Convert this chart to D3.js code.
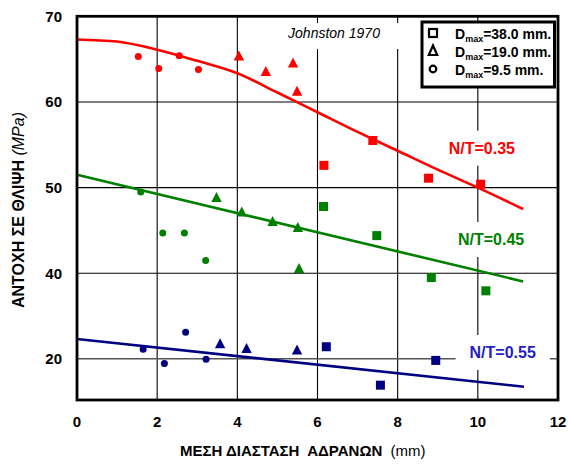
<!DOCTYPE html>
<html>
<head>
<meta charset="utf-8">
<script src="https://cdn.jsdelivr.net/npm/d3@7/dist/d3.min.js"></script>
<style>
  html, body { margin: 0; padding: 0; background: #fff; }
  svg { display: block; font-family: Arial, "Liberation Sans", sans-serif; }
</style>
</head>
<body>
<svg id="chart" width="568" height="464"></svg>
<script>
// Axis ticks
const xTicks = [0, 2, 4, 6, 8, 10, 12];
const yTicks = [20, 40, 50, 60, 70];

// Measurements: [mean aggregate size (mm), strength (MPa)]
const redSquares   = [[6.16, 52.6], [7.38, 55.5], [8.77, 51.1], [10.07, 50.4]];
const redTriangles = [[4.04, 65.3], [4.71, 63.5], [5.39, 64.5], [5.49, 61.2]];
const redCircles   = [[1.53, 65.3], [2.04, 63.9], [2.55, 65.4], [3.03, 63.8]];

const greenSquares   = [[6.15, 47.8], [7.48, 44.4], [8.84, 39.0], [10.2, 35.9]];
const greenTriangles = [[3.48, 48.8], [4.11, 47.1], [4.88, 46.0], [5.51, 45.3], [5.54, 40.5]];
const greenCircles   = [[1.59, 49.5], [2.14, 44.7], [2.68, 44.7], [3.21, 41.5]];

const blueSquares   = [[6.22, 22.8], [7.57, 13.8], [8.95, 19.6]];
const blueTriangles = [[3.57, 23.4], [4.23, 22.3], [5.49, 21.9]];
const blueCircles   = [[1.65, 22.2], [2.18, 18.9], [2.71, 26.2], [3.22, 19.9]];

// Trend curves for each water/cement ratio
const redFit   = [[0, 67.3], [1, 67.05], [2, 66.1], [3, 64.8], [4, 63.35], [5, 61.1], [6, 58.8],
                  [7, 56.5], [8, 54.3], [9, 52.1], [10, 50.0], [11.13, 47.5]];
const greenFit = [[0, 51.5], [11.13, 38.1]];
const blueFit  = [[0, 24.6], [11.15, 13.45]];

const fitLabels = ["N/T=0.35", "N/T=0.45", "N/T=0.55"];
const legendLabels = [["38.0 mm."], ["19.0 mm."], ["9.5 mm."]];

// ---- layout ----
const svg = d3.select("#chart");
const L = 77, R = 558, T = 16.3, B = 400;

const x = d3.scaleLinear().domain([0, 12]).range([L, R]);
// broken value axis: 20–40 band compressed into one grid step
const y = d3.scaleLinear().domain([20, 40, 70]).range([358.7, 273.3, T]);

const RED = "#ff0000", GREEN = "#008000", NAVY = "#000080", LBLUE = "#1f1fc4";

svg.append("rect").attr("width", 568).attr("height", 464).attr("fill", "#fff");

// grid
const grid = svg.append("g");
grid.selectAll("line.v").data(xTicks.filter(d => d > 0 && d < 12)).join("line")
  .attr("x1", d => x(d)).attr("x2", d => x(d)).attr("y1", T).attr("y2", B)
  .attr("stroke", "#000").attr("stroke-width", 1.1);
grid.selectAll("line.h").data(yTicks.filter(d => d < 70)).join("line")
  .attr("x1", L).attr("x2", R).attr("y1", d => y(d)).attr("y2", d => y(d))
  .attr("stroke", d => d === 20 ? "#555" : "#000")
  .attr("stroke-width", d => d === 20 ? 1.6 : 1.1);

// white boxes behind annotations
const covers = svg.append("g");
covers.append("rect").attr("x", 280).attr("y", 23).attr("width", 132).attr("height", 26).attr("fill", "#fff");

// fit curves
const line = d3.line().x(d => x(d[0])).y(d => y(d[1]));
const fits = [[redFit, RED, d3.curveMonotoneX], [greenFit, GREEN, d3.curveLinear], [blueFit, NAVY, d3.curveLinear]];

// labels on fits
const labelPos = [[10.1, 54.6], [10.33, 43.95], [10.62, 21.45]];
const labelCol = [RED, GREEN, LBLUE];
const labelG = svg.append("g");
fitLabels.forEach((t, i) => {
  const cx = x(labelPos[i][0]), cy = y(labelPos[i][1]);
  const txt = labelG.append("text").text(t)
    .attr("x", cx).attr("y", cy + 5.5)
    .attr("text-anchor", "middle")
    .attr("font-size", 16).attr("font-weight", "bold")
    .attr("fill", labelCol[i]);
  const w = txt.node().getComputedTextLength();
  covers.append("rect").attr("x", cx - w / 2 - 14).attr("y", cy - 17.5)
    .attr("width", w + 28).attr("height", 35).attr("fill", "#fff");
});

const lineG = svg.append("g");
fits.forEach(([data, col, curve]) => {
  lineG.append("path").datum(data)
    .attr("d", line.curve(curve))
    .attr("fill", "none").attr("stroke", col).attr("stroke-width", 2.6);
});

// markers
const triPath = "M0,-6L5.2,4L-5.2,4Z";
const markG = svg.append("g");
function squares(data, col) {
  markG.selectAll(null).data(data).join("rect")
    .attr("x", d => x(d[0]) - 4.5).attr("y", d => y(d[1]) - 4.5)
    .attr("width", 9).attr("height", 9).attr("fill", col);
}
function triangles(data, col) {
  markG.selectAll(null).data(data).join("path")
    .attr("d", triPath)
    .attr("transform", d => `translate(${x(d[0])},${y(d[1])})`)
    .attr("fill", col);
}
function circles(data, col) {
  markG.selectAll(null).data(data).join("circle")
    .attr("cx", d => x(d[0])).attr("cy", d => y(d[1])).attr("r", 3.5)
    .attr("fill", col);
}
squares(redSquares, RED); triangles(redTriangles, RED); circles(redCircles, RED);
squares(greenSquares, GREEN); triangles(greenTriangles, GREEN); circles(greenCircles, GREEN);
squares(blueSquares, NAVY); triangles(blueTriangles, NAVY); circles(blueCircles, NAVY);

// re-draw fit labels above everything
labelG.raise();

// frame
svg.append("rect").attr("x", L).attr("y", T).attr("width", R - L).attr("height", B - T)
  .attr("fill", "none").attr("stroke", "#000").attr("stroke-width", 2.8);

// tick labels
svg.append("g").selectAll("text").data(xTicks).join("text")
  .attr("x", d => x(d)).attr("y", 427)
  .attr("text-anchor", "middle").attr("font-size", 15).attr("font-weight", "bold")
  .text(d => d);
svg.append("g").selectAll("text").data(yTicks).join("text")
  .attr("x", 62).attr("y", d => y(d) + 5.4)
  .attr("text-anchor", "end").attr("font-size", 15).attr("font-weight", "bold")
  .text(d => d);

// axis titles
const xt = svg.append("text").attr("x", 180).attr("y", 456).attr("font-size", 15)
  .attr("xml:space", "preserve").style("white-space", "pre");
xt.append("tspan").attr("font-weight", "bold").text("ΜΕΣΗ ΔΙΑΣΤΑΣΗ  ΑΔΡΑΝΩΝ");
xt.append("tspan").text("  (mm)");

const yt = svg.append("text").attr("transform", "translate(23.5,210) rotate(-90)")
  .attr("text-anchor", "middle").attr("font-size", 16).style("white-space", "pre");
yt.append("tspan").attr("font-weight", "bold").text("ΑΝΤΟΧΗ ΣΕ ΘΛΙΨΗ ");
yt.append("tspan").attr("font-style", "italic").text("(MPa)");

// source note
svg.append("text").attr("x", 334).attr("y", 38.3).attr("text-anchor", "middle")
  .attr("font-size", 14).attr("font-style", "italic").text("Johnston 1970");

// legend
const lg = svg.append("g");
lg.append("rect").attr("x", 422).attr("y", 22).attr("width", 132.5).attr("height", 65)
  .attr("fill", "#fff").attr("stroke", "#000").attr("stroke-width", 3);
const rowY = [33, 51, 69];
lg.append("rect").attr("x", 429).attr("y", rowY[0] - 4).attr("width", 8).attr("height", 8)
  .attr("fill", "#fff").attr("stroke", "#000").attr("stroke-width", 2.2);
lg.append("path").attr("d", "M0,-5.5L4.2,4L-4.2,4Z").attr("transform", `translate(433,${rowY[1]})`)
  .attr("fill", "#fff").attr("stroke", "#000").attr("stroke-width", 2.2).attr("stroke-linejoin", "miter");
lg.append("circle").attr("cx", 433).attr("cy", rowY[2]).attr("r", 3.3)
  .attr("fill", "#fff").attr("stroke", "#000").attr("stroke-width", 2.2);
legendLabels.forEach((lab, i) => {
  const t = lg.append("text").attr("x", 455).attr("y", rowY[i] + 5.5)
    .attr("font-size", 14).attr("font-weight", "bold").style("white-space", "pre");
  t.append("tspan").text("D");
  t.append("tspan").attr("font-size", 9).attr("dy", 3).text("max");
  t.append("tspan").attr("dy", -3).text("=" + lab[0]);
});
</script>
</body>
</html>
